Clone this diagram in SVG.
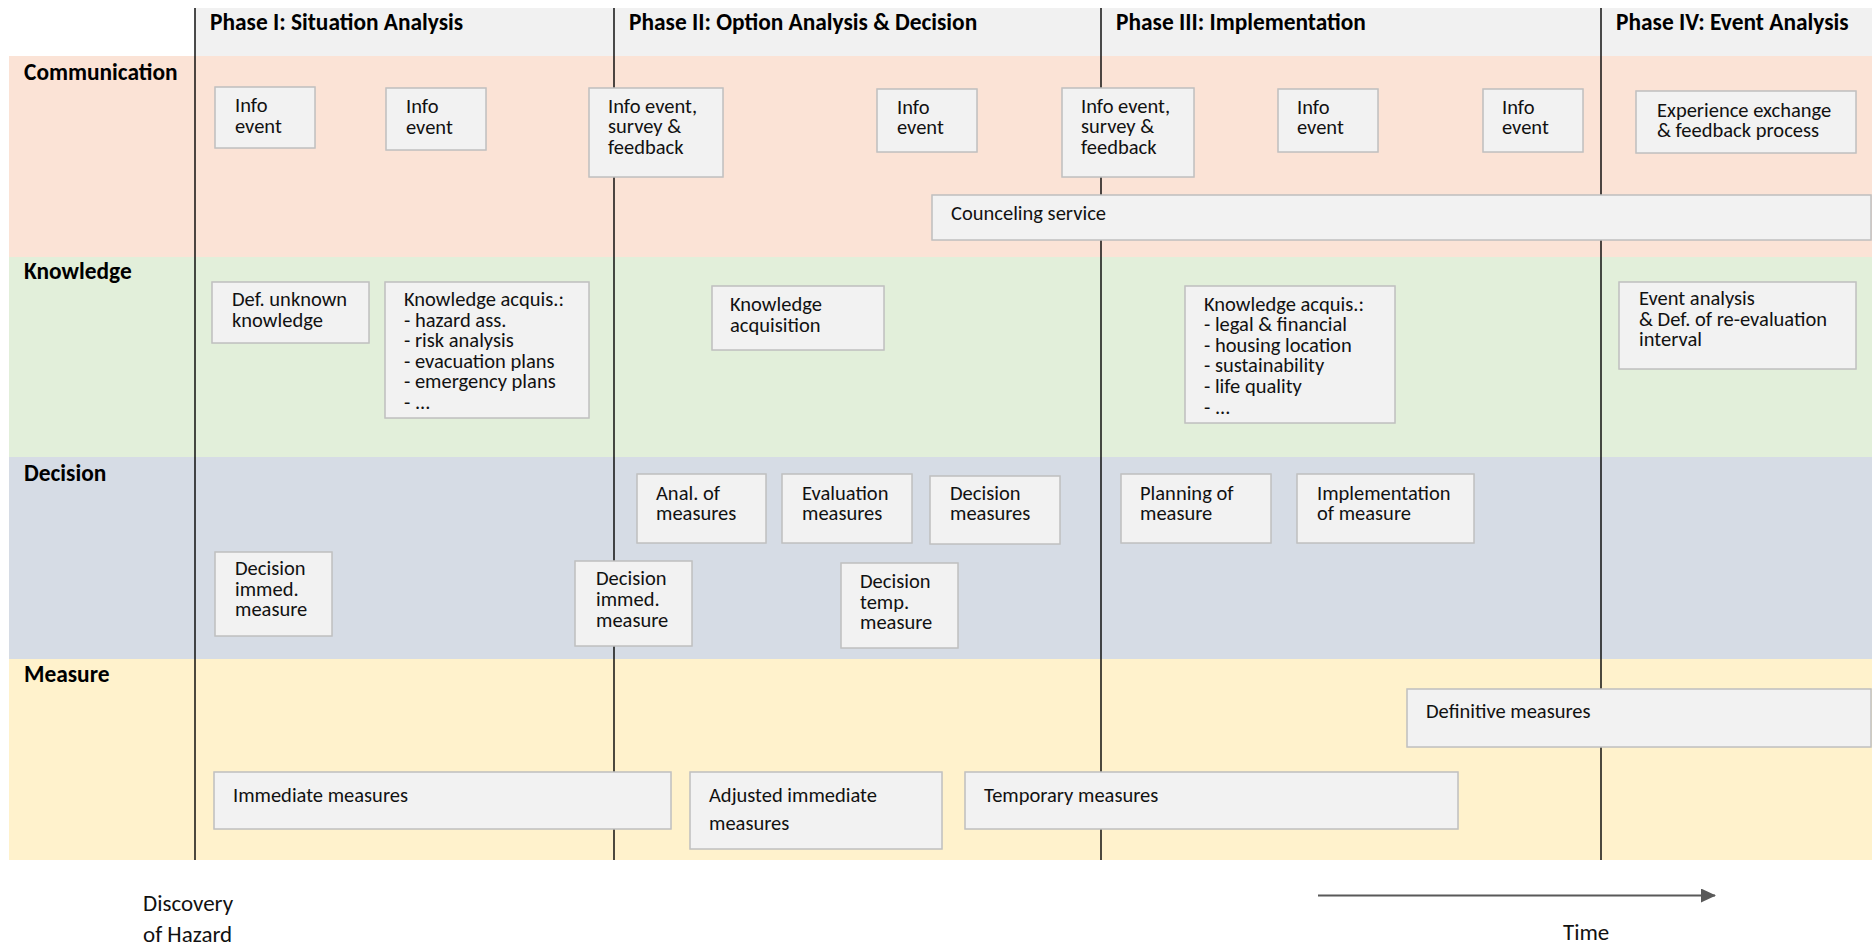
<svg xmlns="http://www.w3.org/2000/svg" width="1872" height="948" viewBox="0 0 1872 948">
<defs>
<style>
text{font-family:Carlito,Lato,"Liberation Sans",sans-serif;fill:#000}
.hd{font-size:23.4px;font-weight:bold}
.ln{font-size:23.4px;font-weight:bold}
.bx rect{fill:#f2f2f2;stroke:#bfbfbf;stroke-width:1.5}
.bx text{font-size:20.5px;fill:#111}
.ph{stroke:#000;stroke-width:1.4}
.lbl{font-size:23px;fill:#111}
</style>
<marker id="ah" markerWidth="16" markerHeight="16" refX="14" refY="7" orient="auto" markerUnits="userSpaceOnUse">
<path d="M0,0 L15,7 L0,14 Z" fill="#595959"/>
</marker>
</defs>
<rect width="1872" height="948" fill="#fff"/>
<g id="lanes">
<rect x="195" y="8" width="1677" height="48" fill="#f1f1f1"/>
<rect x="9" y="56" width="1863" height="201" fill="#fbe3d6"/>
<rect x="9" y="257" width="1863" height="200" fill="#e2efda"/>
<rect x="9" y="457" width="1863" height="202" fill="#d6dce5"/>
<rect x="9" y="659" width="1863" height="201" fill="#fff2cc"/>
<text class="ln" x="24" y="80">Communication</text>
<text class="ln" x="24" y="279">Knowledge</text>
<text class="ln" x="24" y="481">Decision</text>
<text class="ln" x="24" y="682">Measure</text>
</g>
<g id="phases">
<line class="ph" x1="195" y1="8" x2="195" y2="860"/>
<line class="ph" x1="614" y1="8" x2="614" y2="860"/>
<line class="ph" x1="1101" y1="8" x2="1101" y2="860"/>
<line class="ph" x1="1601" y1="8" x2="1601" y2="860"/>
<text class="hd" x="210" y="30">Phase I: Situation Analysis</text>
<text class="hd" x="629" y="30">Phase II: Option Analysis &amp; Decision</text>
<text class="hd" x="1116" y="30">Phase III: Implementation</text>
<text class="hd" x="1616" y="30">Phase IV: Event Analysis</text>
</g>
<g id="n1" class="bx"><rect x="215" y="87" width="100" height="61"/><text x="235" y="112">Info<tspan x="235" dy="20.6">event</tspan></text></g>
<g id="n2" class="bx"><rect x="386" y="88" width="100" height="62"/><text x="406" y="113">Info<tspan x="406" dy="20.6">event</tspan></text></g>
<g id="n3" class="bx"><rect x="589" y="88" width="134" height="89"/><text x="608" y="112.5">Info event,<tspan x="608" dy="20.6">survey &amp;</tspan><tspan x="608" dy="20.6">feedback</tspan></text></g>
<g id="n4" class="bx"><rect x="877" y="89" width="100" height="63"/><text x="897" y="113.5">Info<tspan x="897" dy="20.6">event</tspan></text></g>
<g id="n5" class="bx"><rect x="1062" y="88" width="132" height="89"/><text x="1081" y="112.5">Info event,<tspan x="1081" dy="20.6">survey &amp;</tspan><tspan x="1081" dy="20.6">feedback</tspan></text></g>
<g id="n6" class="bx"><rect x="1278" y="89" width="100" height="63"/><text x="1297" y="113.5">Info<tspan x="1297" dy="20.6">event</tspan></text></g>
<g id="n7" class="bx"><rect x="1483" y="89" width="100" height="63"/><text x="1502" y="113.5">Info<tspan x="1502" dy="20.6">event</tspan></text></g>
<g id="n8" class="bx"><rect x="1636" y="91" width="220" height="62"/><text x="1657" y="116.5">Experience exchange<tspan x="1657" dy="20.6">&amp; feedback process</tspan></text></g>
<g id="n9" class="bx"><rect x="932" y="195" width="939" height="45"/><text x="951" y="220">Counceling service</text></g>
<g id="n10" class="bx"><rect x="212" y="282" width="157" height="61"/><text x="232" y="306">Def. unknown<tspan x="232" dy="20.6">knowledge</tspan></text></g>
<g id="n11" class="bx"><rect x="385" y="282" width="204" height="136"/><text x="404" y="306">Knowledge acquis.:<tspan x="404" dy="20.6">- hazard ass.</tspan><tspan x="404" dy="20.6">- risk analysis</tspan><tspan x="404" dy="20.6">- evacuation plans</tspan><tspan x="404" dy="20.6">- emergency plans</tspan><tspan x="404" dy="20.6">- ...</tspan></text></g>
<g id="n12" class="bx"><rect x="712" y="286" width="172" height="64"/><text x="730" y="311">Knowledge<tspan x="730" dy="20.6">acquisition</tspan></text></g>
<g id="n13" class="bx"><rect x="1185" y="286" width="210" height="137"/><text x="1204" y="310.5">Knowledge acquis.:<tspan x="1204" dy="20.6">- legal &amp; financial</tspan><tspan x="1204" dy="20.6">- housing location</tspan><tspan x="1204" dy="20.6">- sustainability</tspan><tspan x="1204" dy="20.6">- life quality</tspan><tspan x="1204" dy="20.6">- ...</tspan></text></g>
<g id="n14" class="bx"><rect x="1619" y="282" width="237" height="87"/><text x="1639" y="305">Event analysis<tspan x="1639" dy="20.6">&amp; Def. of re-evaluation</tspan><tspan x="1639" dy="20.6">interval</tspan></text></g>
<g id="n15" class="bx"><rect x="215" y="552" width="117" height="84"/><text x="235" y="575">Decision<tspan x="235" dy="20.6">immed.</tspan><tspan x="235" dy="20.6">measure</tspan></text></g>
<g id="n16" class="bx"><rect x="575" y="561" width="117" height="85"/><text x="596" y="585">Decision<tspan x="596" dy="20.8">immed.</tspan><tspan x="596" dy="20.8">measure</tspan></text></g>
<g id="n17" class="bx"><rect x="637" y="474" width="129" height="69"/><text x="656" y="499.5">Anal. of<tspan x="656" dy="20.6">measures</tspan></text></g>
<g id="n18" class="bx"><rect x="782" y="474" width="130" height="69"/><text x="802" y="499.5">Evaluation<tspan x="802" dy="20.6">measures</tspan></text></g>
<g id="n19" class="bx"><rect x="930" y="476" width="130" height="68"/><text x="950" y="499.5">Decision<tspan x="950" dy="20.6">measures</tspan></text></g>
<g id="n20" class="bx"><rect x="841" y="563" width="117" height="85"/><text x="860" y="588">Decision<tspan x="860" dy="20.6">temp.</tspan><tspan x="860" dy="20.6">measure</tspan></text></g>
<g id="n21" class="bx"><rect x="1121" y="474" width="150" height="69"/><text x="1140" y="499.5">Planning of<tspan x="1140" dy="20.6">measure</tspan></text></g>
<g id="n22" class="bx"><rect x="1297" y="474" width="177" height="69"/><text x="1317" y="499.5">Implementation<tspan x="1317" dy="20.6">of measure</tspan></text></g>
<g id="n23" class="bx"><rect x="1407" y="689" width="464" height="58"/><text x="1426" y="718">Definitive measures</text></g>
<g id="n24" class="bx"><rect x="214" y="772" width="457" height="57"/><text x="233" y="802">Immediate measures</text></g>
<g id="n25" class="bx"><rect x="690" y="772" width="252" height="77"/><text x="709" y="802">Adjusted immediate<tspan x="709" dy="27.5">measures</tspan></text></g>
<g id="n26" class="bx"><rect x="965" y="772" width="493" height="57"/><text x="984" y="802">Temporary measures</text></g>
<g id="connectors">
<line x1="1318" y1="895.5" x2="1715" y2="895.5" stroke="#595959" stroke-width="2.2" marker-end="url(#ah)"/>
</g>
<g id="labels">
<text class="lbl" x="143" y="911">Discovery</text>
<text class="lbl" x="143" y="942">of Hazard</text>
<text class="lbl" x="1563" y="940">Time</text>
</g>
</svg>
